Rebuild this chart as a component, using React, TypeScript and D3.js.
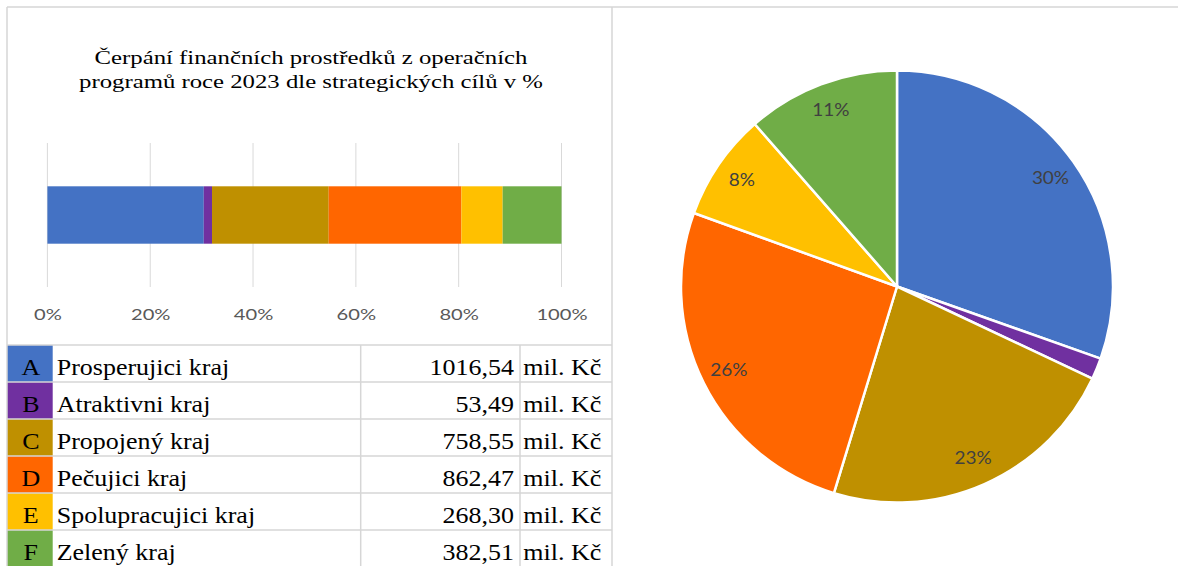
import React, { useRef, useEffect } from "react";
import {
  select,
  scaleLinear,
  scaleBand,
  axisBottom,
  stack,
  pie,
  arc,
  sum,
  format,
  formatLocale,
} from "d3";

const W = 1178;
const H = 566;

const TITLE_LINES = [
  "Čerpání finančních prostředků z operačních",
  "programů roce 2023 dle strategických cílů v %",
];
const CODES = ["A", "B", "C", "D", "E", "F"];
const NAMES = [
  "Prosperujici kraj",
  "Atraktivni kraj",
  "Propojený kraj",
  "Pečujici kraj",
  "Spolupracujici kraj",
  "Zelený kraj",
];
const AMOUNTS = [1016.54, 53.49, 758.55, 862.47, 268.3, 382.51];
const UNIT = "mil. Kč";
const AXIS_TICKS = [0, 0.2, 0.4, 0.6, 0.8, 1];

const COLORS = ["#4472C4", "#7030A0", "#BF9000", "#FF6600", "#FFC000", "#70AD47"];
const GRID = "#D9D9D9";
const BORDER = "#D6D6D6";
const SERIF = "'Liberation Serif', 'Times New Roman', serif";
const SANS = "Lato, Carlito, Calibri, sans-serif";

const czNumber = formatLocale({
  decimal: ",",
  thousands: "",
  grouping: [3],
  currency: ["", ""],
}).format(".2f");

// frame around the left chart + the spreadsheet grid
const addFrame = (svg) => {
  const g = svg.append("g").attr("stroke", BORDER).attr("stroke-width", 1.5);
  g.append("line").attr("x1", 7).attr("x2", W).attr("y1", 7).attr("y2", 7);
  g.append("line").attr("x1", 7).attr("x2", 7).attr("y1", 7).attr("y2", H);
  g.append("line").attr("x1", 612).attr("x2", 612).attr("y1", 7).attr("y2", H);
};

const addTitle = (svg) => {
  svg
    .append("g")
    .selectAll("text")
    .data(TITLE_LINES)
    .enter()
    .append("text")
    .attr("transform", (d, i) => `translate(311,${63.5 + i * 24}) scale(1.29,1)`)
    .attr("text-anchor", "middle")
    .style("font-family", SERIF)
    .style("font-size", "19.2px")
    .style("fill", "#000")
    .text((d) => d);
};

const addBar = (svg, shares) => {
  const x = scaleLinear().domain([0, 1]).range([47.4, 561.5]);
  const y = scaleBand().domain(["2023"]).range([143, 287]).padding(0.43);

  svg
    .append("g")
    .selectAll("line")
    .data(AXIS_TICKS)
    .enter()
    .append("line")
    .attr("x1", (d) => x(d))
    .attr("x2", (d) => x(d))
    .attr("y1", 143)
    .attr("y2", 287)
    .attr("stroke", GRID)
    .attr("stroke-width", 1);

  const row = { key: "2023" };
  CODES.forEach((c, i) => (row[c] = shares[i]));
  const series = stack().keys(CODES)([row]);

  svg
    .append("g")
    .selectAll("rect")
    .data(series)
    .enter()
    .append("rect")
    .attr("x", (s) => x(s[0][0]))
    .attr("width", (s) => x(s[0][1]) - x(s[0][0]))
    .attr("y", y("2023"))
    .attr("height", y.bandwidth())
    .style("fill", (s, i) => COLORS[i]);

  const xAxis = axisBottom(x)
    .tickValues(AXIS_TICKS)
    .tickFormat(format(".0%"))
    .tickSize(0)
    .tickPadding(22);

  svg
    .append("g")
    .attr("transform", "translate(0,287)")
    .call(xAxis)
    .call((g) => {
      g.select(".domain").remove();
      g.selectAll(".tick text")
        .attr("transform", "scale(1.3,1)")
        .style("font-family", SANS)
        .style("font-size", "15.5px")
        .style("fill", "#595959");
    });
};

const addTable = (svg) => {
  const top = 345;
  const rowH = 37;
  const y = (i) => top + i * rowH;
  const g = svg.append("g");

  g.selectAll("rect")
    .data(CODES)
    .enter()
    .append("rect")
    .attr("x", 7)
    .attr("y", (d, i) => y(i))
    .attr("width", 45.7)
    .attr("height", rowH)
    .style("fill", (d, i) => COLORS[i]);

  const lines = g.append("g").attr("stroke", BORDER).attr("stroke-width", 1.5);
  lines
    .selectAll("line.h")
    .data([...CODES.map((d, i) => y(i)), y(CODES.length)])
    .enter()
    .append("line")
    .attr("class", "h")
    .attr("x1", 7)
    .attr("x2", 612)
    .attr("y1", (d) => d)
    .attr("y2", (d) => d);
  lines
    .selectAll("line.v")
    .data([360.7, 520])
    .enter()
    .append("line")
    .attr("class", "v")
    .attr("x1", (d) => d)
    .attr("x2", (d) => d)
    .attr("y1", top)
    .attr("y2", H);

  const cell = (xPos, anchor, text) =>
    g
      .append("g")
      .selectAll("text")
      .data(CODES)
      .enter()
      .append("text")
      .attr("transform", (d, i) => `translate(${xPos},${y(i) + 30}) scale(1.15,1)`)
      .attr("text-anchor", anchor)
      .style("font-family", SERIF)
      .style("font-size", "22.6px")
      .style("fill", "#000")
      .text(text);

  cell(30.8, "middle", (d) => d);
  cell(56.7, "start", (d, i) => NAMES[i]);
  cell(514, "end", (d, i) => czNumber(AMOUNTS[i]));
  cell(523.3, "start", () => UNIT);
};

const addPie = (svg, shares) => {
  const cx = 897;
  const cy = 286.5;
  const r = 216;
  const g = svg.append("g").attr("transform", `translate(${cx},${cy})`);

  const arcs = pie().sort(null).value((d) => d)(shares);
  const slice = arc().innerRadius(0).outerRadius(r);
  const labelArc = arc().innerRadius(r * 0.87).outerRadius(r * 0.87);

  g.selectAll("path")
    .data(arcs)
    .enter()
    .append("path")
    .attr("d", slice)
    .style("fill", (d, i) => COLORS[i])
    .attr("stroke", "#fff")
    .attr("stroke-width", 2.5)
    .attr("stroke-linejoin", "round");

  g.selectAll("text")
    .data(arcs.filter((d) => d.data > 0.03))
    .enter()
    .append("text")
    .attr("transform", (d) => {
      const [lx, ly] = labelArc.centroid(d);
      return `translate(${lx},${ly}) scale(1.15,1)`;
    })
    .attr("text-anchor", "middle")
    .attr("dy", "0.35em")
    .style("font-family", SANS)
    .style("font-size", "16.5px")
    .style("fill", "#404040")
    .text((d) => format(".0%")(d.data));
};

export default function App() {
  const chartDomNode = useRef(null);

  useEffect(() => {
    const svg = select(chartDomNode.current);
    svg.selectAll("*").remove();

    const total = sum(AMOUNTS);
    const shares = AMOUNTS.map((v) => v / total);

    svg.append("rect").attr("width", W).attr("height", H).style("fill", "#fff");
    addBar(svg, shares);
    addTable(svg);
    addPie(svg, shares);
    addFrame(svg);
    addTitle(svg);
  }, []);

  return (
    <svg
      ref={chartDomNode}
      width={W}
      height={H}
      style={{ position: "absolute", left: 0, top: 0 }}
    />
  );
}
